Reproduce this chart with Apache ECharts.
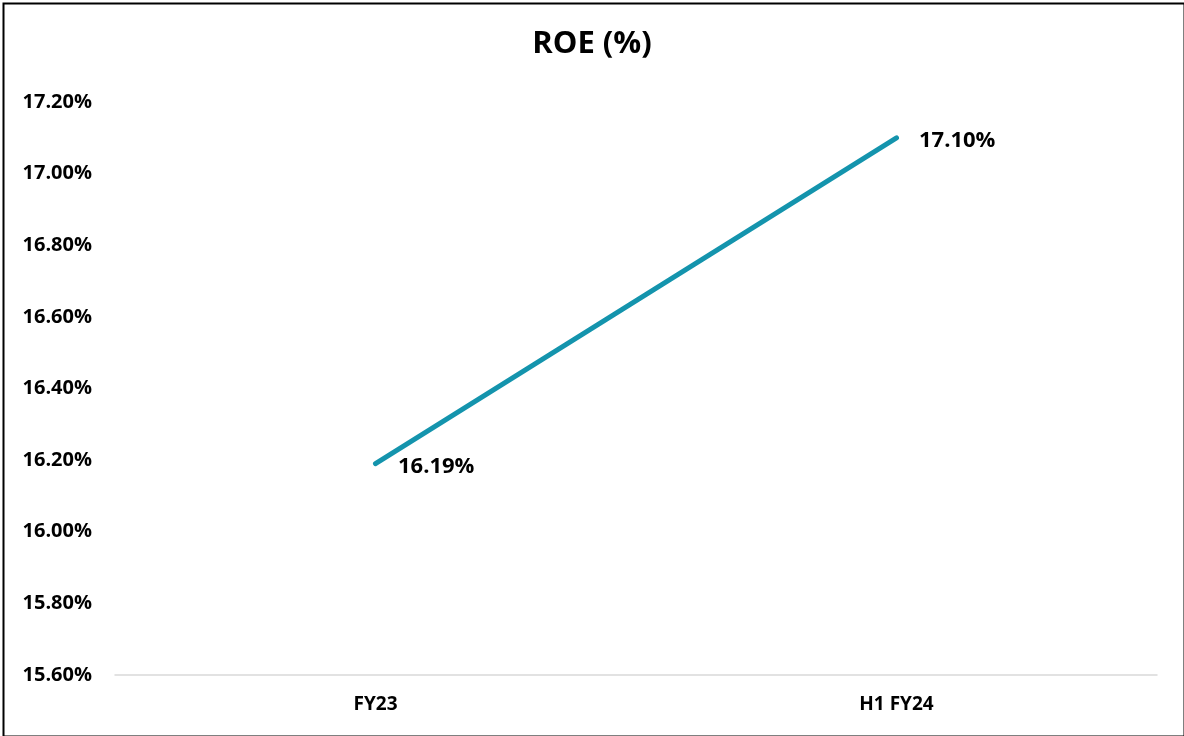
<!DOCTYPE html>
<html>
<head>
<meta charset="utf-8">
<script src="https://cdn.jsdelivr.net/npm/echarts@6/dist/echarts.min.js"></script>
<style>
html,body{margin:0;padding:0;background:#fff;}
#c{width:1184px;height:736px;}
</style>
</head>
<body>
<div id="c"></div>
<script>
const categories = ["FY23", "H1 FY24"];
const roeValues = [16.19, 17.10];
const yMin = 15.6, yMax = 17.2, yStep = 0.2;

const chart = echarts.init(document.getElementById('c'));
const font = '"Open Sans", sans-serif';
chart.setOption({
  animation: false,
  title: {
    text: 'ROE (%)', left: 'center', top: 24,
    textStyle: {fontFamily: font, fontWeight: 'bold', fontSize: 31, color: '#000'}
  },
  graphic: [{
    type: 'rect', left: 1, top: 1, silent: true,
    shape: {x: 0, y: 0, width: 1181, height: 733},
    style: {fill: 'none', stroke: '#000', lineWidth: 2}
  }],
  grid: {left: 115, right: 27, top: 102, bottom: 61, containLabel: false},
  xAxis: {
    type: 'category', data: categories, boundaryGap: true,
    axisLine: {lineStyle: {color: '#d9d9d9', width: 1.5}},
    axisTick: {show: false},
    axisLabel: {fontFamily: font, fontWeight: 'bold', fontSize: 19, color: '#000', margin: 20}
  },
  yAxis: {
    type: 'value', min: yMin, max: yMax, interval: yStep,
    splitLine: {show: false},
    axisLine: {show: false}, axisTick: {show: false},
    axisLabel: {
      fontFamily: font, fontWeight: 'bold', fontSize: 20, color: '#000', margin: 23,
      formatter: v => v.toFixed(2) + '%'
    }
  },
  series: [{
    type: 'line', data: roeValues, symbol: 'circle', symbolSize: 1, showSymbol: true,
    itemStyle: {color: '#1494AD'},
    lineStyle: {color: '#1494AD', width: 5, cap: 'round'},
    label: {
      show: true, position: 'right', distance: 22, offset: [0, 3],
      fontFamily: font, fontWeight: 'bold', fontSize: 22, color: '#000',
      formatter: p => p.value.toFixed(2) + '%'
    }
  }]
});
</script>
</body>
</html>
